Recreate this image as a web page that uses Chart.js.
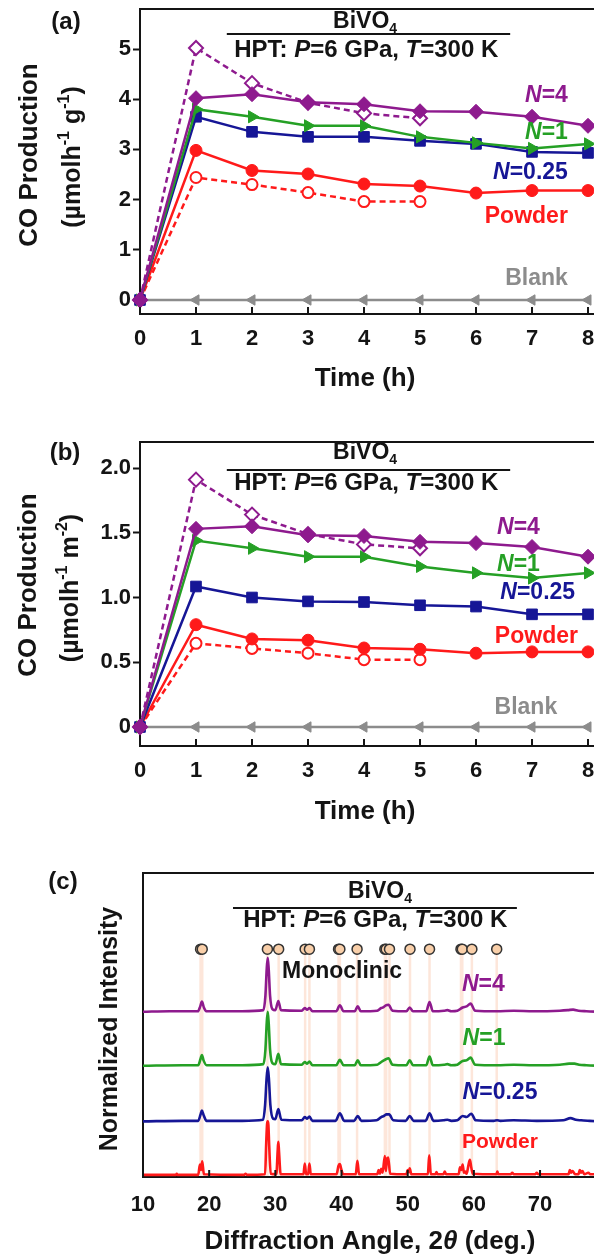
<!DOCTYPE html>
<html>
<head>
<meta charset="utf-8">
<script src="https://cdn.jsdelivr.net/npm/chart.js@4.4.1/dist/chart.umd.min.js"></script>
<style>
  html, body { margin: 0; padding: 0; background: #fff; overflow: hidden; width: 594px; height: 1260px; }
  canvas { position: absolute; left: 0; }
</style>
</head>
<body>
<canvas id="chartA" width="610" height="400" style="top:0"></canvas>
<canvas id="chartB" width="610" height="410" style="top:420px"></canvas>
<canvas id="chartC" width="610" height="420" style="top:840px"></canvas>
<script>
// ---- photocatalytic CO production vs time ----
const hours = [0, 1, 2, 3, 4, 5, 6, 7, 8];
const hoursFirstRun = [0, 1, 2, 3, 4, 5];
const hourTicks = [0, 1, 2, 3, 4, 5, 6, 7, 8];

// per mass (umol h^-1 g^-1)
const gTicks = [0, 1, 2, 3, 4, 5];
const gN4 = [0, 4.02, 4.10, 3.94, 3.90, 3.76, 3.75, 3.65, 3.47];
const gN4First = [0, 5.02, 4.32, 3.93, 3.72, 3.62];
const gN1 = [0, 3.80, 3.65, 3.47, 3.47, 3.25, 3.13, 3.02, 3.11];
const gN025 = [0, 3.65, 3.35, 3.25, 3.25, 3.17, 3.11, 2.95, 2.93];
const gPowder = [0, 2.98, 2.58, 2.51, 2.31, 2.27, 2.13, 2.18, 2.18];
const gPowderFirst = [0, 2.44, 2.30, 2.14, 1.96, 1.96];
const gBlank = [0, 0, 0, 0, 0, 0, 0, 0, 0];

// per surface area (umol h^-1 m^-2)
const mTicks = [0, 0.5, 1.0, 1.5, 2.0];
const mN4 = [0, 1.53, 1.55, 1.48, 1.475, 1.43, 1.42, 1.39, 1.315];
const mN4First = [0, 1.91, 1.64, 1.49, 1.41, 1.38];
const mN1 = [0, 1.44, 1.38, 1.315, 1.315, 1.24, 1.19, 1.15, 1.19];
const mN025 = [0, 1.085, 1.0, 0.97, 0.965, 0.94, 0.93, 0.87, 0.87];
const mPowder = [0, 0.79, 0.68, 0.67, 0.61, 0.60, 0.57, 0.58, 0.58];
const mPowderFirst = [0, 0.646, 0.607, 0.57, 0.52, 0.52];
const mBlank = [0, 0, 0, 0, 0, 0, 0, 0, 0];

// ---- XRD patterns, [2theta, normalized intensity] ----
const angleTicks = [10, 20, 30, 40, 50, 60, 70];
const stackOffsets = [0, 1.0, 2.03, 3.03]; // powder, N=0.25, N=1, N=4
const monoclinicPeaks = [18.7, 18.95, 28.8, 30.5, 34.5, 35.15, 39.55, 39.75, 42.35,
                         46.55, 46.75, 47.25, 50.35, 53.3, 58.05, 58.25, 59.7, 63.45];
const markerRow = 4.19;

const xrdPowder = [
  [10, 0.01], [15, 0.01], [15.1, 0.03], [15.2, 0.01], [18.35, 0.01], [18.6, 0.2], [18.77, 0.1],
  [18.95, 0.26], [19.2, 0.02], [25.3, 0.01], [25.5, 0.03], [25.7, 0.01], [28.45, 0.02],
  [28.62, 0.6], [28.75, 0.95], [28.85, 1.0], [28.95, 0.93], [29.07, 0.55], [29.3, 0.03],
  [30.15, 0.02], [30.35, 0.45], [30.45, 0.62], [30.55, 0.45], [30.8, 0.02], [34.25, 0.02],
  [34.45, 0.22], [34.65, 0.02], [34.95, 0.02], [35.15, 0.22], [35.35, 0.02], [39.25, 0.02],
  [39.55, 0.18], [39.75, 0.21], [39.95, 0.12], [40.25, 0.02], [42.15, 0.02], [42.4, 0.27],
  [42.65, 0.02], [45.4, 0.02], [45.6, 0.1], [45.8, 0.03], [46.0, 0.12], [46.2, 0.05],
  [46.55, 0.36], [46.7, 0.08], [46.85, 0.3], [47.05, 0.33], [47.35, 0.03], [49.8, 0.02],
  [50.0, 0.1], [50.15, 0.06], [50.3, 0.13], [50.55, 0.02], [53.05, 0.02], [53.25, 0.37],
  [53.5, 0.02], [54.2, 0.02], [54.35, 0.06], [54.5, 0.02], [55.4, 0.02], [55.6, 0.07],
  [55.8, 0.02], [57.7, 0.02], [57.9, 0.15], [58.1, 0.1], [58.3, 0.2], [58.5, 0.05],
  [58.7, 0.07], [58.9, 0.03], [59.2, 0.2], [59.4, 0.29], [59.6, 0.15], [59.85, 0.03],
  [63.4, 0.02], [63.55, 0.07], [63.7, 0.02], [65.6, 0.02], [65.8, 0.05], [66.0, 0.02],
  [69.3, 0.02], [69.5, 0.05], [69.7, 0.02], [74.3, 0.02], [74.5, 0.1], [74.7, 0.05],
  [74.9, 0.08], [75.3, 0.02], [75.8, 0.02], [76.0, 0.1], [76.2, 0.05], [76.4, 0.08],
  [76.7, 0.02], [77.3, 0.05], [77.6, 0.02], [79, 0.02]
];
const xrdN025 = [
  [10, 0], [16, 0.01], [18.35, 0.01], [18.7, 0.13], [18.9, 0.2], [19.15, 0.12], [19.6, 0.01],
  [25, 0.01], [28.15, 0.03], [28.45, 0.3], [28.68, 0.8], [28.85, 1.0], [29.02, 0.8],
  [29.25, 0.3], [29.65, 0.05], [30.0, 0.04], [30.45, 0.23], [30.9, 0.03], [34.0, 0.02],
  [34.45, 0.08], [34.8, 0.05], [35.15, 0.09], [35.6, 0.01], [39.1, 0.01], [39.75, 0.15],
  [40.4, 0.01], [41.9, 0.01], [42.45, 0.1], [43.0, 0.01], [45.3, 0.02], [46.0, 0.08],
  [46.4, 0.1], [46.8, 0.13], [47.2, 0.13], [47.8, 0.02], [49.7, 0.01], [50.3, 0.1],
  [50.9, 0.01], [52.7, 0.01], [53.3, 0.15], [53.9, 0.01], [55.4, 0.02], [56.0, 0.03],
  [56.6, 0.01], [57.5, 0.02], [58.3, 0.1], [58.9, 0.08], [59.6, 0.14], [60.3, 0.02],
  [63.0, 0.01], [63.5, 0.02], [64, 0.01], [66, 0.02], [69.5, 0.01], [73.5, 0.02],
  [74.6, 0.06], [75.4, 0.03], [76.2, 0.02], [77.5, 0.01], [79, 0]
];
const xrdN1 = [
  [10, 0], [16, 0.01], [18.35, 0.01], [18.7, 0.13], [18.9, 0.2], [19.15, 0.1], [19.6, 0.01],
  [25, 0.01], [28.2, 0.03], [28.5, 0.3], [28.7, 0.8], [28.85, 1.0], [29.0, 0.78],
  [29.2, 0.3], [29.55, 0.05], [30.0, 0.03], [30.45, 0.22], [30.85, 0.03], [34.0, 0.02],
  [34.45, 0.07], [34.8, 0.04], [35.15, 0.08], [35.6, 0.01], [39.2, 0.01], [39.75, 0.11],
  [40.3, 0.01], [42.0, 0.01], [42.45, 0.1], [42.9, 0.01], [45.4, 0.02], [46.0, 0.07],
  [46.4, 0.1], [46.7, 0.12], [47.1, 0.14], [47.7, 0.02], [49.8, 0.01], [50.3, 0.1],
  [50.8, 0.01], [52.8, 0.01], [53.3, 0.17], [53.8, 0.01], [55.5, 0.02], [56.0, 0.03],
  [56.6, 0.01], [57.5, 0.02], [58.3, 0.09], [58.9, 0.1], [59.5, 0.15], [60.2, 0.02],
  [63.5, 0.01], [66, 0.02], [69, 0.01], [73, 0.02], [74.4, 0.04], [75.2, 0.04],
  [75.9, 0.02], [77, 0.01], [79, 0]
];
const xrdN4 = [
  [10, 0], [14, 0.01], [18.3, 0.01], [18.65, 0.1], [18.9, 0.19], [19.2, 0.08], [19.55, 0.01],
  [25, 0.01], [28.2, 0.03], [28.5, 0.3], [28.7, 0.8], [28.85, 1.0], [29.0, 0.78],
  [29.2, 0.3], [29.55, 0.05], [30.0, 0.03], [30.45, 0.2], [30.85, 0.03], [34.0, 0.02],
  [34.45, 0.07], [34.8, 0.04], [35.15, 0.07], [35.6, 0.01], [39.2, 0.01], [39.75, 0.12],
  [40.3, 0.01], [42.0, 0.01], [42.45, 0.1], [42.9, 0.01], [45.4, 0.02], [46.0, 0.07],
  [46.3, 0.08], [46.7, 0.12], [47.1, 0.13], [47.7, 0.02], [49.8, 0.01], [50.3, 0.08],
  [50.8, 0.01], [52.8, 0.01], [53.3, 0.18], [53.8, 0.01], [55.5, 0.02], [56.0, 0.03],
  [56.6, 0.01], [57.5, 0.02], [58.3, 0.08], [58.9, 0.1], [59.5, 0.15], [60.2, 0.02],
  [63.5, 0.01], [66, 0.02], [69, 0.01], [73, 0.02], [74.2, 0.03], [75.0, 0.04],
  [75.8, 0.02], [77, 0.01], [79, 0]
];

const PURPLE = '#8e1a8e', GREEN = '#25a025', BLUE = '#161696', RED = '#ff1a1a', GRAY = '#8c8c8c';
const INK = '#141414';
const FONT = '"Liberation Sans", Arial, Helvetica, sans-serif';

// draw a run of text pieces; pieces may be italic, subscript or superscript
function drawRich(ctx, segs, x, y, align, size, color, baseline) {
  const parts = segs.map(s => {
    const small = s.sub || s.sup;
    const fs = small ? Math.round(size * 0.62) : size;
    const font = (s.it ? 'italic ' : '') + 'bold ' + fs + 'px ' + FONT;
    ctx.font = font;
    return { t: s.t, font, w: ctx.measureText(s.t).width,
             dy: s.sub ? size * 0.3 : (s.sup ? -size * 0.45 : 0) };
  });
  const total = parts.reduce((a, p) => a + p.w, 0);
  let cx = align === 'center' ? x - total / 2 : (align === 'right' ? x - total : x);
  ctx.fillStyle = color;
  ctx.textAlign = 'left';
  ctx.textBaseline = baseline || 'middle';
  for (const p of parts) {
    ctx.font = p.font;
    ctx.fillText(p.t, cx, y + p.dy);
    cx += p.w;
  }
}

const T = t => ({ t });
const I = t => ({ t, it: true });
const SUB = t => ({ t, sub: true });
const SUP = t => ({ t, sup: true });

const framePlugin = {
  id: 'frame',
  beforeDatasetsDraw(chart, args, opts) {
    const { ctx, chartArea: a, scales } = chart;
    ctx.save();
    // pale reference lines for the monoclinic reflections
    if (opts.guides) {
      ctx.strokeStyle = '#fde6da';
      ctx.lineWidth = 2.5;
      for (const g of opts.guides) {
        const px = scales.x.getPixelForValue(g);
        ctx.beginPath();
        ctx.moveTo(px, scales.y.getPixelForValue(opts.guideTop));
        ctx.lineTo(px, a.bottom);
        ctx.stroke();
      }
    }
    ctx.strokeStyle = INK;
    ctx.lineWidth = 2;
    ctx.beginPath();
    ctx.moveTo(a.right, a.top);
    ctx.lineTo(a.left, a.top);
    ctx.lineTo(a.left, a.bottom);
    ctx.lineTo(a.right, a.bottom);
    ctx.stroke();
    ctx.restore();
  },
  afterDatasetsDraw(chart, args, opts) {
    const { ctx, chartArea: a, scales } = chart;
    ctx.save();
    ctx.strokeStyle = INK;
    ctx.lineWidth = 2;
    ctx.beginPath();
    for (const v of opts.xTicks) {
      const px = scales.x.getPixelForValue(v);
      ctx.moveTo(px, a.bottom);
      ctx.lineTo(px, a.bottom - 7);
    }
    ctx.stroke();
    ctx.restore();
  }
};

const notesPlugin = {
  id: 'notes',
  afterDraw(chart, args, opts) {
    const { ctx, scales: { x, y } } = chart;
    ctx.save();
    for (const n of opts.items || []) {
      const px = n.px !== undefined ? n.px : x.getPixelForValue(n.x);
      const py = n.py !== undefined ? n.py : y.getPixelForValue(n.y);
      drawRich(ctx, n.segs, px, py, n.align || 'center', n.size || 23, n.color || INK);
    }
    for (const r of opts.rules || []) {
      const py = y.getPixelForValue(r.y);
      ctx.strokeStyle = INK;
      ctx.lineWidth = 2;
      ctx.beginPath();
      ctx.moveTo(x.getPixelForValue(r.x0), py);
      ctx.lineTo(x.getPixelForValue(r.x1), py);
      ctx.stroke();
    }
    // rotated axis titles: px is the text baseline, py its middle
    for (const t of opts.vertical || []) {
      ctx.save();
      ctx.translate(t.px, t.py);
      ctx.rotate(-Math.PI / 2);
      drawRich(ctx, t.segs, 0, 0, 'center', t.size, INK, 'alphabetic');
      ctx.restore();
    }
    ctx.restore();
  }
};

function series(label, xs, ys, color, style, rot, dashed, open, r) {
  return {
    label,
    data: xs.map((x, i) => ({ x, y: ys[i] })),
    borderColor: color,
    backgroundColor: color,
    borderWidth: 2.5,
    borderDash: dashed ? [6, 4] : [],
    pointStyle: style,
    rotation: rot,
    pointRadius: r,
    pointBackgroundColor: open ? '#fff' : color,
    pointBorderColor: color,
    pointBorderWidth: open ? 2 : 1,
    tension: 0,
    clip: false
  };
}

// the first dataset is painted on top
function rateSets(v) {
  return [
    series('N=4', hours, v.n4, PURPLE, 'rectRot', 0, false, false, 7.5),
    series('N=4, first run', hoursFirstRun, v.n4First, PURPLE, 'rectRot', 0, true, true, 7),
    series('N=1', hours, v.n1, GREEN, 'triangle', 90, false, false, 7),
    series('N=0.25', hours, v.n025, BLUE, 'rect', 0, false, false, 7.5),
    series('Powder', hours, v.powder, RED, 'circle', 0, false, false, 6),
    series('Powder, first run', hoursFirstRun, v.powderFirst, RED, 'circle', 0, true, true, 5.5),
    series('Blank', hours, v.blank, GRAY, 'triangle', -90, false, false, 6)
  ];
}

function fixedScale(size, ticks, horizontal) {
  return {
    afterFit(scale) {
      if (horizontal) scale.height = size; else scale.width = size;
      scale.paddingLeft = scale.paddingRight = scale.paddingTop = scale.paddingBottom = 0;
    },
    afterBuildTicks(scale) {
      if (ticks) scale.ticks = ticks.map(value => ({ value }));
    }
  };
}

const tickFont = { family: FONT, size: 22, weight: 'bold' };

function rateChart(id, padTop, axisH, yMin, yMax, yTicks, decimals, data, notes) {
  return new Chart(document.getElementById(id), {
    type: 'line',
    data: { datasets: rateSets(data) },
    options: {
      responsive: false,
      animation: false,
      layout: { padding: { top: padTop, right: 10, left: 0, bottom: 0 } },
      plugins: {
        legend: { display: false },
        tooltip: { enabled: false },
        frame: { xTicks: hourTicks },
        notes
      },
      scales: {
        x: Object.assign({
          type: 'linear', min: 0, max: 8.214,
          grid: { display: false }, border: { display: false },
          ticks: { color: INK, font: tickFont, padding: 4, maxRotation: 0 }
        }, fixedScale(axisH, hourTicks, true)),
        y: Object.assign({
          type: 'linear', min: yMin, max: yMax,
          grid: { drawOnChartArea: false, drawTicks: true, tickLength: 7, tickWidth: 2, tickColor: INK },
          border: { display: false },
          ticks: { color: INK, font: tickFont, padding: 2,
                   callback: v => v === 0 ? '0' : v.toFixed(decimals) }
        }, fixedScale(140, yTicks, false))
      }
    },
    plugins: [framePlugin, notesPlugin]
  });
}

function header(cx, yTop, yRule, yHpt, x0, x1) {
  return {
    items: [
      { segs: [T('BiVO'), SUB('4')], x: cx, y: yTop },
      { segs: [T('HPT: '), I('P'), T('=6 GPa, '), I('T'), T('=300 K')], x: cx + 0.02, y: yHpt, size: 24 }
    ],
    rule: { x0, x1, y: yRule }
  };
}

// (a) per mass
const hA = header(4.02, 5.54, 5.3, 4.98, 1.55, 6.61);
rateChart('chartA', 9, 86, -0.279, 5.797, gTicks, 0,
  { n4: gN4, n4First: gN4First, n1: gN1, n025: gN025, powder: gPowder, powderFirst: gPowderFirst, blank: gBlank },
  {
    items: hA.items.concat([
      { segs: [T('(a)')], px: 66, py: 22, size: 24 },
      { segs: [I('N'), T('=4')], x: 7.64, y: 4.08, align: 'right', color: PURPLE },
      { segs: [I('N'), T('=1')], x: 7.64, y: 3.33, align: 'right', color: GREEN },
      { segs: [I('N'), T('=0.25')], x: 7.64, y: 2.53, align: 'right', color: BLUE },
      { segs: [T('Powder')], x: 7.64, y: 1.67, align: 'right', color: RED },
      { segs: [T('Blank')], x: 7.64, y: 0.42, align: 'right', color: GRAY },
      { segs: [T('Time (h)')], px: 365, py: 379, size: 26 }
    ]),
    rules: [hA.rule],
    vertical: [
      { segs: [T('CO Production')], px: 37, py: 155, size: 26 },
      { segs: [T('(\u00b5molh'), SUP('-1'), T(' g'), SUP('-1'), T(')')], px: 80, py: 157, size: 25 }
    ]
  });

// (b) per surface area
const hB = header(4.02, 2.116, 1.985, 1.884, 1.55, 6.61);
rateChart('chartB', 22, 84, -0.1467, 2.2008, mTicks, 1,
  { n4: mN4, n4First: mN4First, n1: mN1, n025: mN025, powder: mPowder, powderFirst: mPowderFirst, blank: mBlank },
  {
    items: hB.items.concat([
      { segs: [T('(b)')], px: 65, py: 33, size: 24 },
      { segs: [I('N'), T('=4')], x: 7.14, y: 1.537, align: 'right', color: PURPLE },
      { segs: [I('N'), T('=1')], x: 7.14, y: 1.25, align: 'right', color: GREEN },
      { segs: [I('N'), T('=0.25')], x: 7.77, y: 1.035, align: 'right', color: BLUE },
      { segs: [T('Powder')], x: 7.82, y: 0.695, align: 'right', color: RED },
      { segs: [T('Blank')], x: 7.45, y: 0.147, align: 'right', color: GRAY },
      { segs: [T('Time (h)')], px: 365, py: 392, size: 26 }
    ]),
    rules: [hB.rule],
    vertical: [
      { segs: [T('CO Production')], px: 36, py: 165, size: 26 },
      { segs: [T('(\u00b5molh'), SUP('-1'), T(' m'), SUP('-2'), T(')')], px: 78, py: 168, size: 25 }
    ]
  });

// (c) XRD patterns
function trace(points, offset, color) {
  return {
    data: points.map(([a, b]) => ({ x: a, y: b + offset })),
    borderColor: color,
    borderWidth: 2.6,
    pointRadius: 0,
    cubicInterpolationMode: 'monotone',
    clip: false
  };
}

new Chart(document.getElementById('chartC'), {
  type: 'line',
  data: {
    datasets: [
      {
        label: 'Monoclinic',
        data: monoclinicPeaks.map(a => ({ x: a, y: markerRow })),
        showLine: false,
        pointStyle: 'circle',
        pointRadius: 5,
        pointBackgroundColor: '#f9cfa9',
        pointBorderColor: '#333',
        pointBorderWidth: 1.5,
        clip: false
      },
      trace(xrdN4, stackOffsets[3], PURPLE),
      trace(xrdN1, stackOffsets[2], GREEN),
      trace(xrdN025, stackOffsets[1], BLUE),
      trace(xrdPowder, stackOffsets[0], RED)
    ]
  },
  options: {
    responsive: false,
    animation: false,
    layout: { padding: { top: 33, right: 10, left: 0, bottom: 0 } },
    plugins: {
      legend: { display: false },
      tooltip: { enabled: false },
      frame: { xTicks: angleTicks, guides: monoclinicPeaks, guideTop: markerRow - 0.1 },
      notes: {
        items: [
          { segs: [T('(c)')], px: 63, py: 42, size: 24 },
          { segs: [T('BiVO'), SUB('4')], x: 45.8, y: 5.25 },
          { segs: [T('HPT: '), I('P'), T('=6 GPa, '), I('T'), T('=300 K')], x: 45.1, y: 4.73, size: 24 },
          { segs: [T('Monoclinic')], x: 31.0, y: 3.77, align: 'left' },
          { segs: [I('N'), T('=4')], x: 58.2, y: 3.53, align: 'left', color: PURPLE },
          { segs: [I('N'), T('=1')], x: 58.3, y: 2.54, align: 'left', color: GREEN },
          { segs: [I('N'), T('=0.25')], x: 58.3, y: 1.53, align: 'left', color: BLUE },
          { segs: [T('Powder')], x: 58.2, y: 0.62, align: 'left', color: RED, size: 21 },
          { segs: [T('Diffraction Angle, 2'), I('\u03b8'), T(' (deg.)')], px: 370, py: 402, size: 26 }
        ],
        rules: [{ x0: 23.6, x1: 66.5, y: 4.95 }],
        vertical: [
          { segs: [T('Normalized Intensity')], px: 117, py: 189, size: 25 }
        ]
      }
    },
    scales: {
      x: Object.assign({
        type: 'linear', min: 10, max: 79.06,
        grid: { display: false }, border: { display: false },
        ticks: { color: INK, font: tickFont, padding: 7, maxRotation: 0 }
      }, fixedScale(83, angleTicks, true)),
      y: Object.assign({
        type: 'linear', min: -0.03, max: 5.6,
        grid: { display: false }, border: { display: false },
        ticks: { display: false }
      }, fixedScale(143, null, false))
    }
  },
  plugins: [framePlugin, notesPlugin]
});
</script>
</body>
</html>
